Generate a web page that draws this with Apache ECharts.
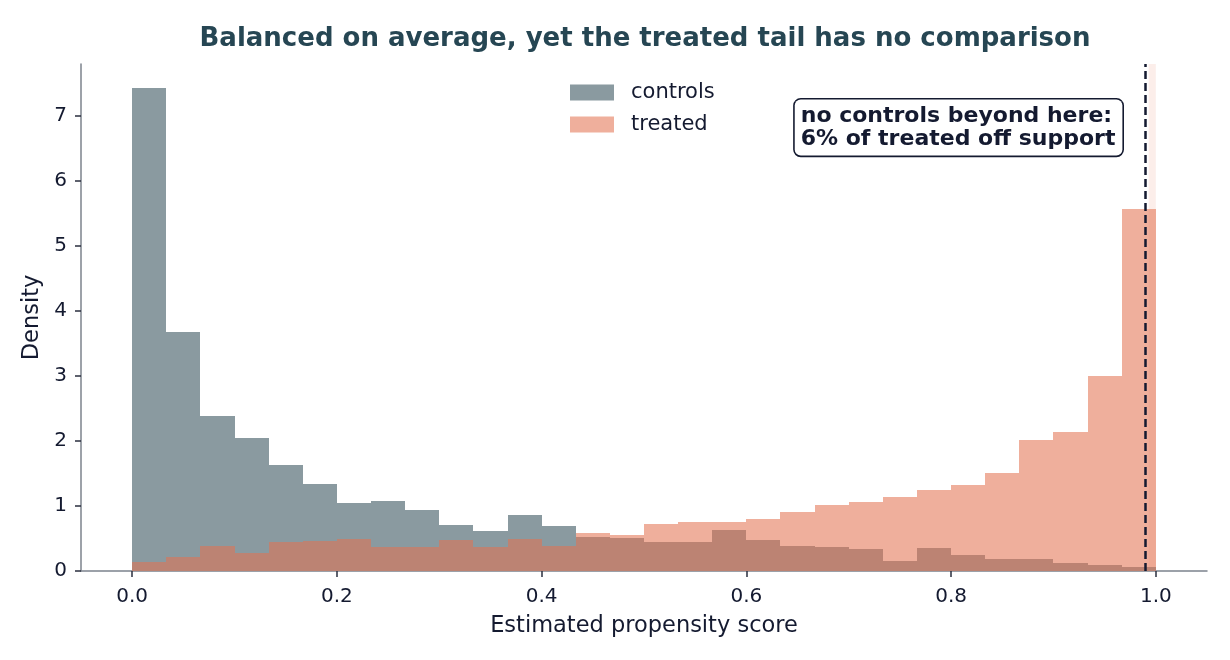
<!DOCTYPE html>
<html>
<head>
<meta charset="utf-8">
<script src="https://cdn.jsdelivr.net/npm/echarts@6/dist/echarts.min.js"></script>
<style>
html,body{margin:0;padding:0;background:#fff;}
#chart{width:1230px;height:660px;}
</style>
</head>
<body>
<div id="chart"></div>
<script>
// ---- data ----
const binCount = 30;
const binEdges = Array.from({length: binCount + 1}, (_, i) => i / binCount);
const controlsDensity = [7.43, 3.68, 2.38, 2.05, 1.63, 1.34, 1.05, 1.08, 0.94, 0.71,
                         0.62, 0.86, 0.69, 0.52, 0.51, 0.45, 0.45, 0.63, 0.48, 0.39,
                         0.37, 0.34, 0.15, 0.35, 0.25, 0.19, 0.19, 0.12, 0.09, 0.06];
const treatedDensity  = [0.14, 0.22, 0.39, 0.28, 0.45, 0.46, 0.49, 0.37, 0.37, 0.48,
                         0.37, 0.49, 0.39, 0.59, 0.55, 0.72, 0.75, 0.75, 0.80, 0.91,
                         1.02, 1.06, 1.14, 1.25, 1.32, 1.51, 2.02, 2.14, 3.00, 5.57];
const supportCutoff = 0.993;
const xTicks = [0.0, 0.2, 0.4, 0.6, 0.8, 1.0];
const yTicks = [0, 1, 2, 3, 4, 5, 6, 7];
const titleText = 'Balanced on average, yet the treated tail has no comparison';
const noteText = 'no controls beyond here:\n6% of treated off support';

// ---- build ----
const toBins = vals => vals.map((v, i) => [binEdges[i], binEdges[i + 1], v]);
const FONT = '"DejaVu Sans", sans-serif';
const INK = '#141a30';

function rectRenderer(fill) {
  return function (params, api) {
    const p0 = api.coord([api.value(0), 0]);
    const p1 = api.coord([api.value(1), api.value(2)]);
    const x0 = Math.round(p0[0]), x1 = Math.round(p1[0]);
    const yb = Math.round(p0[1]), yt = Math.round(p1[1]);
    return {
      type: 'rect',
      shape: {x: x0, y: yt, width: x1 - x0, height: yb - yt},
      style: {fill: fill}
    };
  };
}

const chart = echarts.init(document.getElementById('chart'), null, {renderer: 'canvas'});
chart.setOption({
  backgroundColor: '#ffffff',
  animation: false,
  title: {
    text: titleText,
    left: 640,
    textAlign: 'center',
    top: 21,
    textStyle: {fontFamily: FONT, fontSize: 26, fontWeight: 'bold', color: '#264653'}
  },
  legend: {
    orient: 'vertical',
    left: 570,
    top: 82,
    padding: 0,
    itemWidth: 44,
    itemHeight: 16,
    itemGap: 11,
    icon: 'rect',
    textStyle: {fontFamily: FONT, fontSize: 21, color: INK, padding: [0, 0, 0, 12]},
    data: [
      {name: 'controls', itemStyle: {color: '#8a9aa0', opacity: 1}},
      {name: 'treated', itemStyle: {color: '#efaf9c', opacity: 1}}
    ]
  },
  grid: {left: 81, right: 23, top: 64, bottom: 89, containLabel: false},
  xAxis: {
    type: 'value',
    min: -0.05,
    max: 1.05,
    name: 'Estimated propensity score',
    nameLocation: 'middle',
    nameGap: 44,
    nameTextStyle: {fontFamily: FONT, fontSize: 22.5, color: INK},
    splitLine: {show: false},
    axisLine: {show: true, onZero: false, lineStyle: {color: '#7c838d', width: 1.5}},
    axisTick: {show: true, length: 6, lineStyle: {color: '#2a2f3f', width: 1.5}, customValues: xTicks},
    axisLabel: {fontFamily: FONT, fontSize: 20, color: INK, margin: 16,
      customValues: xTicks, formatter: v => v.toFixed(1)}
  },
  yAxis: {
    type: 'value',
    min: 0,
    max: 7.8,
    name: 'Density',
    nameLocation: 'middle',
    nameGap: 32,
    nameTextStyle: {fontFamily: FONT, fontSize: 22.5, color: INK},
    splitLine: {show: false},
    axisLine: {show: true, onZero: false, lineStyle: {color: '#7c838d', width: 1.5}},
    axisTick: {show: true, length: 6, lineStyle: {color: '#2a2f3f', width: 1.5}, customValues: yTicks},
    axisLabel: {fontFamily: FONT, fontSize: 20, color: INK, margin: 14,
      customValues: yTicks, formatter: v => String(v)}
  },
  series: [
    {
      type: 'line',
      name: '_support',
      data: [],
      silent: true,
      z: 1,
      markArea: {
        silent: true,
        itemStyle: {color: 'rgba(227,115,81,0.12)'},
        data: [[{xAxis: supportCutoff}, {xAxis: binEdges[binCount]}]]
      }
    },
    {
      type: 'custom',
      name: 'controls',
      z: 2,
      renderItem: rectRenderer('#8a9aa0'),
      encode: {x: [0, 1], y: 2},
      itemStyle: {color: '#8a9aa0'},
      data: toBins(controlsDensity)
    },
    {
      type: 'custom',
      name: 'treated',
      z: 3,
      renderItem: rectRenderer('rgba(227,115,81,0.57)'),
      encode: {x: [0, 1], y: 2},
      itemStyle: {color: '#efaf9c'},
      data: toBins(treatedDensity)
    },
    {
      type: 'line',
      name: '_cutoff',
      data: [],
      silent: true,
      z: 5,
      markLine: {
        silent: true,
        symbol: ['none', 'none'],
        label: {show: false},
        lineStyle: {color: INK, width: 2.5, type: [8, 4]},
        data: [{xAxis: supportCutoff}]
      }
    }
  ],
  graphic: [
    {
      type: 'text',
      right: 106,
      top: 98,
      z: 10,
      style: {
        text: noteText,
        align: 'right',
        font: 'bold 22px ' + FONT,
        lineHeight: 23,
        fill: INK,
        backgroundColor: '#ffffff',
        borderColor: INK,
        borderWidth: 1.6,
        borderRadius: 6,
        padding: [5, 7, 5, 6]
      }
    }
  ]
});
</script>
</body>
</html>
